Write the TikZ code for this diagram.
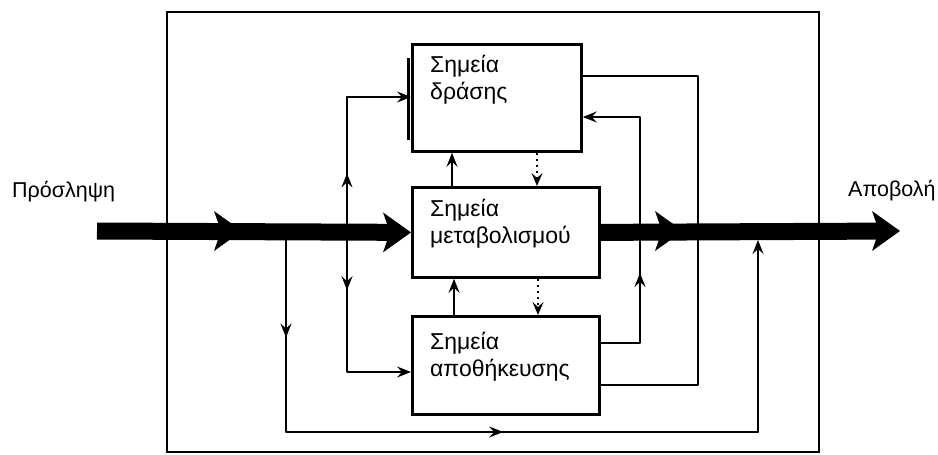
\documentclass[tikz,border=0pt]{standalone}
\usepackage{fontspec}
\setmainfont{Liberation Sans}
\usetikzlibrary{arrows.meta,decorations.markings}

\tikzset{
  frame/.style={draw, line width=1.9pt},
  block/.style={draw, line width=2.8pt, inner sep=0pt, anchor=north west},
  lbl/.style={anchor=base west, inner sep=0pt, align=left,
              font=\fontsize{21.5}{26}\selectfont},
  boxtext/.style={lbl, font=\fontsize{23}{26.5}\selectfont},
  flow/.style={line width=1.5pt, line cap=round, line join=round},
  tipend/.style={-{Stealth[length=14pt,width=11pt,inset=5pt]}},
  dotflow/.style={line width=1.6pt, dash pattern=on 2pt off 4pt,
                  -{Stealth[length=13pt,width=11pt,inset=5pt]}},
  midarr/.style={postaction={decorate},
    decoration={markings, mark=at position #1 with
      {\arrow{Stealth[length=14pt,width=11pt,inset=5pt]}}}},
  bigbar/.style={line width=17pt, shorten >=14pt},
  bighead/.pic={\fill (0,0) -- (-28,-20) -- (-21,0) -- (-28,20) -- cycle;}
}

\begin{document}
\begin{tikzpicture}[x=1pt, y=-1pt]
\useasboundingbox (0,0) rectangle (938,455);

% enclosing system boundary
\draw[frame] (167,12) rectangle (819,452);

% the three stores
\node[block, minimum width=169pt, minimum height=107pt] (act) at (411,43) {};
\node[block, minimum width=187pt, minimum height=90pt]  (met) at (411,186) {};
\node[block, minimum width=187pt, minimum height=98pt]  (sto) at (411,315) {};
\fill (406.5,58) rectangle (410,140);

% base anchor sits on the last line of each two-line label
\node[boxtext] (actT) at (430,99)  {Σημεία\\δράσης};
\node[boxtext] (metT) at (430,243) {Σημεία\\μεταβολισμού};
\node[boxtext] (stoT) at (430,376) {Σημεία\\αποθήκευσης};

% outside labels
\node[lbl] (inL)  at (12,197)  {Πρόσληψη};
\node[lbl] (outL) at (848,196) {Αποβολή};

% routing points
\coordinate (inS)  at (97,231);
\coordinate (outE) at (900,231);
\coordinate (jA)   at (286,231);
\coordinate (jB)   at (347,231);
\coordinate (a1)   at (286,432);
\coordinate (a2)   at (758,432);
\coordinate (a3)   at (758,240);
\coordinate (b1)   at (347,97);
\coordinate (b2)   at (347,372);
\coordinate (c1)   at (640,343);
\coordinate (c2)   at (640,117);
\coordinate (d1)   at (698,76);
\coordinate (d2)   at (698,385);
\coordinate (v1)   at (452,0);
\coordinate (v2)   at (537,0);
\coordinate (v3)   at (454,0);
\coordinate (v4)   at (538,0);

% bypass from intake straight to output
\draw[flow] (jA) -- (a1) -- (a2);
\path[flow, midarr=0.53] (jA) -- (a1);
\path[flow, midarr=0.46] (a1) -- (a2);
\draw[flow, tipend] (a2) -- (a3);

% intake distributed to action and storage
\draw[flow, tipend] (jB) -- (b1) -- (b1 -| act.west);
\path[flow, midarr=0.43] (jB) -- (b1);
\draw[flow, tipend] (jB) -- (b2) -- (b2 -| sto.west);
\path[flow, midarr=0.42] (jB) -- (b2);

% storage feeding action
\draw[flow, tipend] (c1 -| sto.east) -- (c1) -- (c2) -- (c2 -| act.east);
\path[flow, midarr=0.31] (c1) -- (c2);

% link between action and storage
\draw[flow] (d1 -| act.east) -- (d1) -- (d2) -- (d2 -| sto.east);

% exchanges with the metabolic store
\draw[flow, tipend] (v1 |- met.north) -- (v1 |- act.south);
\draw[dotflow] (v2 |- act.south) -- (v2 |- met.north);
\draw[flow, tipend] (v3 |- sto.north) -- (v3 |- met.south);
\draw[dotflow] (v4 |- met.south) -- (v4 |- sto.north);

% main intake and output streams
\draw[bigbar] (inS) -- (met.west);
\pic at (242,231) {bighead};
\pic at (met.west) {bighead};
\draw[bigbar] (met.east) -- (outE);
\pic at (683,231) {bighead};
\pic at (outE) {bighead};
\end{tikzpicture}
\end{document}
